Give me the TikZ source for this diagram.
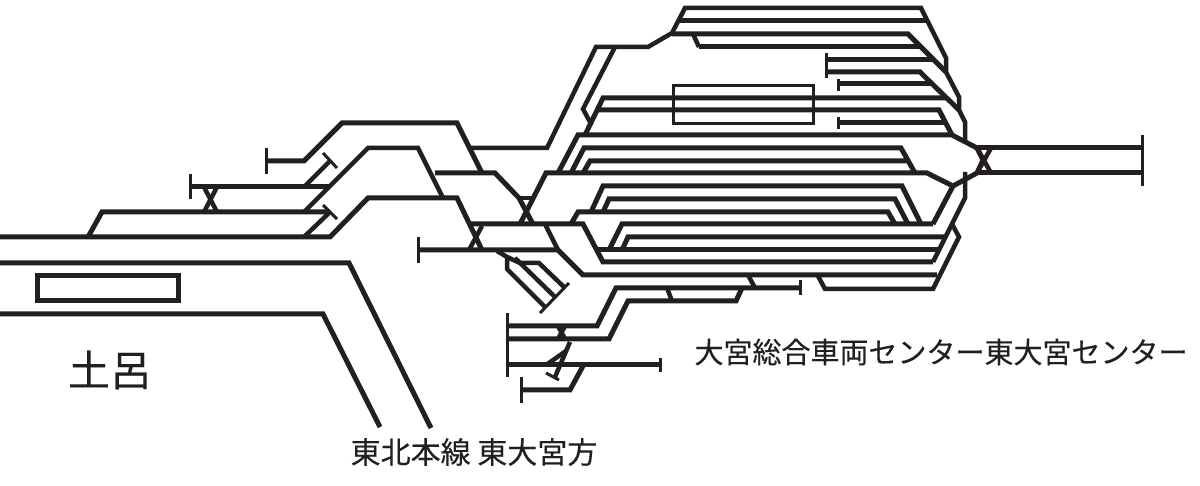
\documentclass[tikz,border=0pt]{standalone}
\usepackage{fontspec}
\usepackage{tikz}
\newfontfamily\jpfont[FakeBold=0.25]{Noto Sans CJK JP}
\definecolor{myink}{HTML}{231F20}
\tikzset{
    mytrack/.style={line width=5pt,draw=myink,line join=miter},
    mybranch/.style={line width=4.5pt,draw=myink,line join=miter},
    mybumper/.style={line width=3pt,draw=myink},
    myplatform/.style={line width=2.9pt,draw=myink},
    mylabel/.style={font=\jpfont,text=myink,inner sep=0pt}
}
\begin{document}
\begin{tikzpicture}[x=1pt,y=-1pt]
  \useasboundingbox (0,0) rectangle (1200,486);
  % left side
  \draw[mytrack] (0,237) -- (330,237) -- (368,198) -- (457,198) -- (482,250);
  \draw[mytrack] (0,263) -- (349,263) -- (431,428);
  \draw[mytrack] (0,314) -- (323,314) -- (380,427);
  \draw[mytrack] (88,237) -- (102,212) -- (330,212);
  \draw[mytrack] (266,161) -- (304,161) -- (342,123) -- (457,123) -- (482,173);
  \draw[mytrack] (190,187) -- (330,187);
  \draw[mybranch] (304,212) -- (368,148) -- (418,148) -- (443,198);
  \draw[mybranch] (304,187) -- (330,161);
  \draw[mybranch] (304,237) -- (330,212);
  \draw[mybranch] (204,187) -- (217,212);
  \draw[mybranch] (217,187) -- (204,212);
  % middle yard
  \draw[mytrack] (435,173) -- (495,173) -- (519,198) -- (533,224);
  \draw[mytrack] (470,224) -- (583,224) -- (603,262) -- (933,262);
  \draw[mytrack] (418,250) -- (558,250) -- (583,275) -- (937,275);
  \draw[mybranch] (545,224) -- (558,250);
  \draw[mybranch] (482,226) -- (469,250);
  \draw[mybranch] (519,198) -- (532,198);
  \draw[mybranch] (468,148) -- (547,148) -- (596,47) -- (648,47) -- (672,33) -- (685,8) -- (921,8) -- (946,58) -- (946,72) -- (959,97) -- (959,110) -- (965,122) -- (965,140);
  \draw[mybranch] (615,47) -- (583,109) -- (590,122);
  % spurs below the yard
  \draw[mybranch] (497,251) -- (507,257) -- (507,269) -- (545,307);
  \draw[mybranch] (515,258) -- (555,297);
  \draw[mybranch] (507,257) -- (520,263) -- (539,263) -- (565,288);
  % upper sidings
  \draw[mytrack] (680,21) -- (927,21);
  \draw[mytrack] (672,34) -- (908,34) -- (946,72);
  \draw[mytrack] (699,47) -- (920,47);
  \draw[mybranch] (693,34) -- (699,47);
  \draw[mytrack] (826,60) -- (932,60);
  \draw[mytrack] (826,72) -- (920,72) -- (959,110);
  \draw[mytrack] (838,84) -- (932,84);
  \draw[mytrack] (585,135) -- (603,98) -- (946,98);
  \draw[mytrack] (597,110) -- (939,110) -- (952,135);
  \draw[mytrack] (838,123) -- (946,123);
  \draw[mytrack] (558,173) -- (578,135) -- (952,135) -- (977,148) -- (983,160) -- (977,173) -- (953,186) -- (933,224);
  % station tracks
  \draw[mytrack] (571,173) -- (584,148) -- (901,148) -- (915,173);
  \draw[mytrack] (583,173) -- (590,161) -- (908,161);
  \draw[mytrack] (520,224) -- (546,173) -- (927,173) -- (953,186);
  \draw[mytrack] (591,212) -- (603,186) -- (902,186) -- (921,224);
  \draw[mytrack] (603,212) -- (609,199) -- (895,199) -- (908,224);
  \draw[mytrack] (571,224) -- (578,212) -- (888,212) -- (895,224);
  \draw[mytrack] (609,250) -- (622,224) -- (933,224);
  \draw[mytrack] (622,250) -- (628,237) -- (945,237);
  \draw[mytrack] (597,250) -- (938,250);
  \draw[mybranch] (965,172) -- (965,198) -- (933,262);
  \draw[mybranch] (952,224) -- (959,237) -- (933,289) -- (825,289) -- (818,276);
  % down tracks
  \draw[mytrack] (977,148) -- (1142,148);
  \draw[mytrack] (977,173) -- (1142,173);
  \draw[mybranch] (977,148) -- (991,173);
  \draw[mybranch] (991,148) -- (977,173);
  % lower sidings
  \draw[mytrack] (507,326) -- (597,326) -- (616,288) -- (800,288);
  \draw[mytrack] (507,339) -- (609,339) -- (628,301) -- (736,301) -- (742,288);
  \draw[mybranch] (667,288) -- (672,301);
  \draw[mybranch] (748,275) -- (755,288);
  \draw[mybranch] (558,326) -- (565,339);
  \draw[mybranch] (565,326) -- (558,339);
  \draw[mytrack] (507,365) -- (660,365);
  \draw[mytrack] (521,390) -- (570,390) -- (583,366);
  \draw[mybranch] (570,342) -- (555,377);
  \draw[mybranch] (546,365) -- (566,351);
  % bumpers
  \foreach \x/\ya/\yb in {266/148/174,190/174/199,418/237/263,826/53/78,838/79/91,838/117/129,1142/135/186,800/280/295,507/313/377,660/358/372,521/377/403}{
    \draw[mybumper] (\x,\ya) -- (\x,\yb);
  }
  \draw[mybumper] (323,153) -- (337,168);
  \draw[mybumper] (323,205) -- (337,219);
  \draw[mybumper] (540,313) -- (569,283);
  \draw[mybumper] (546,373) -- (559,380);
  % platforms
  \draw[myplatform] (673.5,85.5) rectangle (813.5,123.5);
  \draw[mytrack] (37,276) rectangle (178,301);
  % labels
  \node[mylabel,font=\jpfont\fontsize{42}{42}\selectfont] (dorolabel) at (110,370) {土呂};
  \node[mylabel,font=\jpfont\fontsize{29}{29}\selectfont] (centerlabel) at (941,352) {大宮総合車両センター東大宮センター};
  \node[mylabel,font=\jpfont\fontsize{30}{30}\selectfont] (linelabel) at (474,452) {東北本線 東大宮方};
\end{tikzpicture}
\end{document}
